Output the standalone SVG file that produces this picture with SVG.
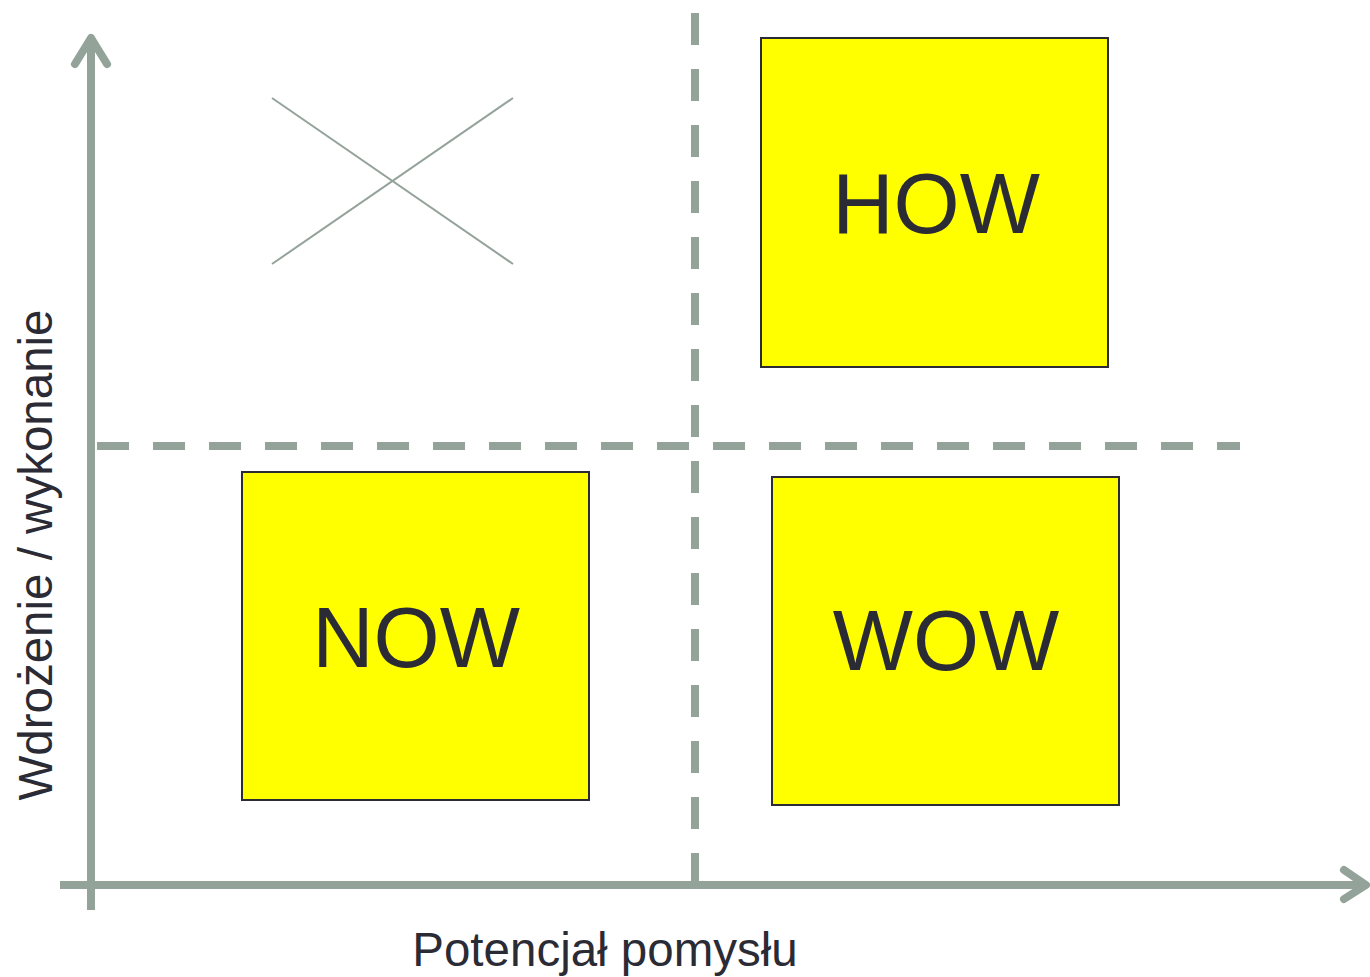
<svg xmlns="http://www.w3.org/2000/svg" width="1370" height="977" viewBox="0 0 1370 977">
  <style>
    .axis { stroke: #93a39a; stroke-width: 8; fill: none; stroke-linecap: round; stroke-linejoin: round; }
    .axis-line { stroke: #93a39a; stroke-width: 8; fill: none; }
    .divider { stroke: #93a39a; stroke-width: 8; fill: none; stroke-dasharray: 32 24; }
    .cross { stroke: #93a39a; stroke-width: 2; fill: none; }
    .box { fill: #ffff00; stroke: #2b2b35; stroke-width: 2; }
    .big { font-family: "Liberation Sans", Arial, sans-serif; font-size: 85px; fill: #2b2b35; text-anchor: middle; }
    .label { font-family: "Liberation Sans", Arial, sans-serif; font-size: 47.5px; fill: #2b2b35; text-anchor: middle; }
  </style>

  <!-- quadrant dividers and axes -->
  <g id="connectors">
    <line class="divider" x1="695" y1="13" x2="695" y2="884"/>
    <line class="divider" x1="97" y1="446" x2="1240" y2="446"/>
    <line class="axis-line" x1="91" y1="42" x2="91" y2="910"/>
    <line class="axis-line" x1="60" y1="885" x2="1364" y2="885"/>
    <polyline class="axis" points="75,64 91,38 107,64"/>
    <polyline class="axis" points="1344,870 1366,885 1344,899"/>
  </g>

  <!-- crossed-out quadrant -->
  <g id="empty-quadrant">
    <line class="cross" x1="272" y1="98" x2="513" y2="264"/>
    <line class="cross" x1="272" y1="264" x2="513" y2="98"/>
  </g>

  <g id="how">
    <rect class="box" x="761" y="38" width="347" height="329"/>
    <text class="big" x="936" y="233">HOW</text>
  </g>

  <g id="now">
    <rect class="box" x="242" y="472" width="347" height="328"/>
    <text class="big" x="416" y="667">NOW</text>
  </g>

  <g id="wow">
    <rect class="box" x="772" y="477" width="347" height="328"/>
    <text class="big" x="946" y="670">WOW</text>
  </g>

  <g id="x-axis-label">
    <text class="label" x="605" y="966">Potencjał pomysłu</text>
  </g>

  <g id="y-axis-label">
    <text class="label" transform="translate(52,555) rotate(-90)" x="0" y="0">Wdrożenie / wykonanie</text>
  </g>
</svg>
